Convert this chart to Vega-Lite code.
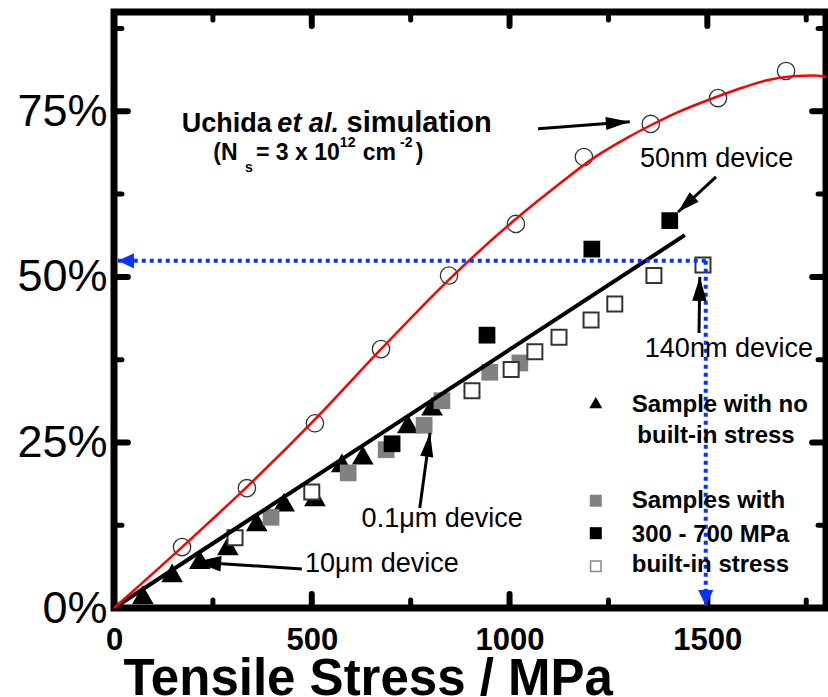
{
  "$schema": "https://vega.github.io/schema/vega-lite/v6.json",
  "width": 712,
  "height": 596,
  "autosize": {"type": "none"},
  "padding": {"left": 114, "top": 12, "right": 2, "bottom": 89},
  "background": "white",
  "config": {
    "view": {"stroke": "black", "strokeWidth": 7}
  },
  "datasets": {
    "sim": [
      {"x": 0, "y": 0}, {"x": 172, "y": 0.092}, {"x": 336, "y": 0.183}, {"x": 508, "y": 0.285}, {"x": 672, "y": 0.389},
      {"x": 847, "y": 0.496}, {"x": 1009, "y": 0.584}, {"x": 1127, "y": 0.641}, {"x": 1211, "y": 0.679}, {"x": 1297, "y": 0.71},
      {"x": 1357, "y": 0.729}, {"x": 1423, "y": 0.748}, {"x": 1524, "y": 0.772}, {"x": 1590, "y": 0.786}, {"x": 1651, "y": 0.797},
      {"x": 1716, "y": 0.803}, {"x": 1767, "y": 0.804}, {"x": 1800, "y": 0.802}
    ],
    "simpts": [
      {"x": 172, "y": 0.092}, {"x": 336, "y": 0.181}, {"x": 508, "y": 0.279}, {"x": 675, "y": 0.391}, {"x": 847, "y": 0.502},
      {"x": 1016, "y": 0.58}, {"x": 1188, "y": 0.681}, {"x": 1357, "y": 0.731}, {"x": 1527, "y": 0.77}, {"x": 1699, "y": 0.811}
    ],
    "fit": [{"x": 0, "y": 0}, {"x": 1443, "y": 0.563}],
    "meas": [
      {"series": "none", "x": 73, "y": 0.02}, {"series": "none", "x": 147, "y": 0.053}, {"series": "none", "x": 217, "y": 0.073},
      {"series": "none", "x": 288, "y": 0.094}, {"series": "none", "x": 361, "y": 0.13}, {"series": "none", "x": 430, "y": 0.16},
      {"series": "none", "x": 508, "y": 0.168}, {"series": "none", "x": 576, "y": 0.219}, {"series": "none", "x": 629, "y": 0.231},
      {"series": "none", "x": 743, "y": 0.278}, {"series": "none", "x": 804, "y": 0.305},
      {"series": "gray", "x": 397, "y": 0.137}, {"series": "gray", "x": 592, "y": 0.204}, {"series": "gray", "x": 688, "y": 0.239},
      {"series": "gray", "x": 784, "y": 0.276}, {"series": "gray", "x": 829, "y": 0.313}, {"series": "gray", "x": 950, "y": 0.356},
      {"series": "gray", "x": 1026, "y": 0.37},
      {"series": "black", "x": 703, "y": 0.248}, {"series": "black", "x": 943, "y": 0.412}, {"series": "black", "x": 1208, "y": 0.542},
      {"series": "black", "x": 1405, "y": 0.585},
      {"series": "open", "x": 306, "y": 0.106}, {"series": "open", "x": 500, "y": 0.175}, {"series": "open", "x": 905, "y": 0.328},
      {"series": "open", "x": 1004, "y": 0.36}, {"series": "open", "x": 1064, "y": 0.387}, {"series": "open", "x": 1125, "y": 0.409},
      {"series": "open", "x": 1206, "y": 0.435}, {"series": "open", "x": 1266, "y": 0.459}, {"series": "open", "x": 1365, "y": 0.502},
      {"series": "open", "x": 1489, "y": 0.518}
    ],
    "legend": [
      {"series": "none", "x": 1218, "y": 0.31}, {"series": "gray", "x": 1218, "y": 0.162},
      {"series": "black", "x": 1218, "y": 0.113}, {"series": "open", "x": 1218, "y": 0.063}
    ],
    "xt": [
      {"v": 250, "major": false}, {"v": 500, "major": true}, {"v": 750, "major": false}, {"v": 1000, "major": true},
      {"v": 1250, "major": false}, {"v": 1500, "major": true}, {"v": 1750, "major": false}
    ],
    "yt": [
      {"v": 0.125, "major": false}, {"v": 0.25, "major": true}, {"v": 0.375, "major": false}, {"v": 0.5, "major": true},
      {"v": 0.625, "major": false}, {"v": 0.75, "major": true}, {"v": 0.875, "major": false}
    ],
    "arrows": [
      {"name": "uchida", "x": 1072, "y": 0.7236, "x2": 1304, "y2": 0.7341},
      {"name": "50nm", "x": 1522, "y": 0.651, "x2": 1426, "y2": 0.598},
      {"name": "140nm", "x": 1479, "y": 0.4154, "x2": 1481, "y2": 0.5},
      {"name": "0.1um", "x": 773, "y": 0.151, "x2": 799, "y2": 0.2644},
      {"name": "10um", "x": 475, "y": 0.0589, "x2": 205, "y2": 0.0695},
      {"name": "blueH", "x": 1496, "y": 0.5242, "x2": 10, "y2": 0.5242},
      {"name": "blueV", "x": 1496, "y": 0.5242, "x2": 1496, "y2": 0.003}
    ],
    "labels": [
      {"kind": "head", "text": "Uchida", "x": 171, "y": 0.7195},
      {"kind": "headit", "text": "et al.", "x": 413, "y": 0.7195},
      {"kind": "head2", "text": "simulation", "x": 588, "y": 0.7195},
      {"kind": "ns", "text": "(N", "x": 251, "y": 0.6767},
      {"kind": "small", "text": "s", "x": 331, "y": 0.6586},
      {"kind": "ns", "text": "= 3 x 10", "x": 359, "y": 0.6767},
      {"kind": "small", "text": "12", "x": 571, "y": 0.6968},
      {"kind": "ns", "text": "cm", "x": 629, "y": 0.6767},
      {"kind": "small", "text": "-2", "x": 723, "y": 0.6968},
      {"kind": "ns", "text": ")", "x": 763, "y": 0.6767},
      {"kind": "device", "text": "50nm device", "x": 1330, "y": 0.6666},
      {"kind": "device", "text": "140nm device", "x": 1342, "y": 0.3796},
      {"kind": "device", "text": "0.1μm device", "x": 626, "y": 0.1228},
      {"kind": "device", "text": "10μm device", "x": 483, "y": 0.0548},
      {"kind": "legend", "text": "Sample with no", "x": 1309, "y": 0.2965},
      {"kind": "legend", "text": "built-in stress", "x": 1323, "y": 0.2488},
      {"kind": "legend", "text": "Samples with", "x": 1309, "y": 0.1506},
      {"kind": "legend", "text": "300 - 700 MPa", "x": 1309, "y": 0.1002},
      {"kind": "legend", "text": "built-in stress", "x": 1309, "y": 0.0548}
    ]
  },
  "layer": [
    {
      "data": {"name": "simpts"},
      "mark": {"type": "point", "shape": "circle", "filled": false, "stroke": "#333333", "strokeWidth": 1.3, "size": 300, "opacity": 1},
      "encoding": {
        "x": {"field": "x", "type": "quantitative", "scale": {"domain": [0, 1800], "nice": false, "zero": false},
          "axis": {"orient": "bottom", "domain": false, "grid": false, "ticks": false, "values": [0, 500, 1000, 1500], "format": "d",
            "labelFont": "Liberation Sans", "labelColor": "black", "labelFontSize": 31, "labelFontWeight": "bold",
            "labelPadding": 17, "labelFlush": false, "labelOverlap": false,
            "title": "Tensile Stress / MPa", "titleFont": "Liberation Sans", "titleColor": "black", "titleFontSize": 51, "titleFontWeight": "bold", "titleAlign": "left",
            "titleAnchor": "start", "titleX": 9, "titleY": 86, "titleBaseline": "alphabetic"}},
        "y": {"field": "y", "type": "quantitative", "scale": {"domain": [0, 0.9], "nice": false, "zero": false},
          "axis": {"orient": "left", "domain": false, "grid": false, "ticks": false, "values": [0, 0.25, 0.5, 0.75], "format": ".0%",
            "labelFont": "Liberation Sans", "labelColor": "black", "labelFontSize": 45, "labelFontWeight": "normal",
            "labelPadding": 7, "labelFlush": false, "labelOverlap": false, "title": null}}
      }
    },
    {
      "data": {"name": "meas"},
      "transform": [{"filter": "datum.series === 'none'"}],
      "mark": {"type": "point", "shape": "triangle-up", "filled": true, "color": "black", "size": 470, "opacity": 1},
      "encoding": {"x": {"field": "x", "type": "quantitative"}, "y": {"field": "y", "type": "quantitative"}}
    },
    {
      "data": {"name": "meas"},
      "transform": [{"filter": "datum.series === 'gray'"}],
      "mark": {"type": "point", "shape": "square", "filled": true, "color": "#808080", "size": 280, "opacity": 1},
      "encoding": {"x": {"field": "x", "type": "quantitative"}, "y": {"field": "y", "type": "quantitative"}}
    },
    {
      "data": {"name": "meas"},
      "transform": [{"filter": "datum.series === 'black'"}],
      "mark": {"type": "point", "shape": "square", "filled": true, "color": "black", "size": 280, "opacity": 1},
      "encoding": {"x": {"field": "x", "type": "quantitative"}, "y": {"field": "y", "type": "quantitative"}}
    },
    {
      "data": {"name": "meas"},
      "transform": [{"filter": "datum.series === 'open'"}],
      "mark": {"type": "point", "shape": "square", "filled": true, "fill": "white", "stroke": "#333333", "strokeWidth": 2, "size": 225, "opacity": 1},
      "encoding": {"x": {"field": "x", "type": "quantitative"}, "y": {"field": "y", "type": "quantitative"}}
    },
    {
      "data": {"name": "fit"},
      "mark": {"type": "line", "color": "black", "strokeWidth": 4},
      "encoding": {"x": {"field": "x", "type": "quantitative"}, "y": {"field": "y", "type": "quantitative"}}
    },
    {
      "data": {"name": "sim"},
      "mark": {"type": "line", "color": "#ff0000", "strokeWidth": 2.5, "interpolate": "monotone"},
      "encoding": {"x": {"field": "x", "type": "quantitative"}, "y": {"field": "y", "type": "quantitative"}}
    },
    {
      "data": {"name": "xt"},
      "transform": [{"filter": "datum.major"}],
      "mark": {"type": "rule", "color": "black", "strokeWidth": 6, "strokeCap": "round"},
      "encoding": {"x": {"field": "v", "type": "quantitative"}, "y": {"datum": 0}, "y2": {"datum": 0.021}}
    },
    {
      "data": {"name": "xt"},
      "transform": [{"filter": "!datum.major"}],
      "mark": {"type": "rule", "color": "black", "strokeWidth": 5, "strokeCap": "round"},
      "encoding": {"x": {"field": "v", "type": "quantitative"}, "y": {"datum": 0}, "y2": {"datum": 0.012}}
    },
    {
      "data": {"name": "xt"},
      "transform": [{"filter": "datum.major"}],
      "mark": {"type": "rule", "color": "black", "strokeWidth": 6, "strokeCap": "round"},
      "encoding": {"x": {"field": "v", "type": "quantitative"}, "y": {"datum": 0.9}, "y2": {"datum": 0.879}}
    },
    {
      "data": {"name": "xt"},
      "transform": [{"filter": "!datum.major"}],
      "mark": {"type": "rule", "color": "black", "strokeWidth": 5, "strokeCap": "round"},
      "encoding": {"x": {"field": "v", "type": "quantitative"}, "y": {"datum": 0.9}, "y2": {"datum": 0.888}}
    },
    {
      "data": {"name": "yt"},
      "transform": [{"filter": "datum.major"}],
      "mark": {"type": "rule", "color": "black", "strokeWidth": 6, "strokeCap": "round"},
      "encoding": {"y": {"field": "v", "type": "quantitative"}, "x": {"datum": 0}, "x2": {"datum": 35}}
    },
    {
      "data": {"name": "yt"},
      "transform": [{"filter": "!datum.major"}],
      "mark": {"type": "rule", "color": "black", "strokeWidth": 5, "strokeCap": "round"},
      "encoding": {"y": {"field": "v", "type": "quantitative"}, "x": {"datum": 0}, "x2": {"datum": 20}}
    },
    {
      "data": {"name": "yt"},
      "transform": [{"filter": "datum.major"}],
      "mark": {"type": "rule", "color": "black", "strokeWidth": 6, "strokeCap": "round"},
      "encoding": {"y": {"field": "v", "type": "quantitative"}, "x": {"datum": 1800}, "x2": {"datum": 1765}}
    },
    {
      "data": {"name": "yt"},
      "transform": [{"filter": "!datum.major"}],
      "mark": {"type": "rule", "color": "black", "strokeWidth": 5, "strokeCap": "round"},
      "encoding": {"y": {"field": "v", "type": "quantitative"}, "x": {"datum": 1800}, "x2": {"datum": 1780}}
    },
    {
      "data": {"name": "arrows"},
      "transform": [{"filter": "datum.name !== 'blueH' && datum.name !== 'blueV'"}],
      "mark": {"type": "rule", "color": "black", "strokeWidth": 3},
      "encoding": {"x": {"field": "x", "type": "quantitative"}, "y": {"field": "y", "type": "quantitative"},
        "x2": {"field": "x2"}, "y2": {"field": "y2"}}
    },
    {
      "data": {"name": "arrows"},
      "transform": [{"filter": "datum.name === 'blueH' || datum.name === 'blueV'"}],
      "mark": {"type": "rule", "color": "#0a32ff", "strokeWidth": 4, "strokeDash": [4, 4]},
      "encoding": {"x": {"field": "x", "type": "quantitative"}, "y": {"field": "y", "type": "quantitative"},
        "x2": {"field": "x2"}, "y2": {"field": "y2"}}
    },
    {
      "data": {"name": "arrows"},
      "transform": [{"filter": "datum.name === 'uchida'"}],
      "mark": {"type": "point", "shape": "M0,0L-0.55,2L0.55,2Z", "filled": true, "color": "black", "size": 576, "angle": 86, "opacity": 1},
      "encoding": {"x": {"field": "x2", "type": "quantitative"}, "y": {"field": "y2", "type": "quantitative"}}
    },
    {
      "data": {"name": "arrows"},
      "transform": [{"filter": "datum.name === '50nm'"}],
      "mark": {"type": "point", "shape": "M0,0L-0.6,2L0.6,2Z", "filled": true, "color": "black", "size": 484, "angle": 227, "opacity": 1},
      "encoding": {"x": {"field": "x2", "type": "quantitative"}, "y": {"field": "y2", "type": "quantitative"}}
    },
    {
      "data": {"name": "arrows"},
      "transform": [{"filter": "datum.name === '140nm'"}],
      "mark": {"type": "point", "shape": "M0,0L-0.6,2L0.6,2Z", "filled": true, "color": "black", "size": 576, "angle": 1, "opacity": 1},
      "encoding": {"x": {"field": "x2", "type": "quantitative"}, "y": {"field": "y2", "type": "quantitative"}}
    },
    {
      "data": {"name": "arrows"},
      "transform": [{"filter": "datum.name === '0.1um'"}],
      "mark": {"type": "point", "shape": "M0,0L-0.55,2L0.55,2Z", "filled": true, "color": "black", "size": 576, "angle": 8, "opacity": 1},
      "encoding": {"x": {"field": "x2", "type": "quantitative"}, "y": {"field": "y2", "type": "quantitative"}}
    },
    {
      "data": {"name": "arrows"},
      "transform": [{"filter": "datum.name === '10um'"}],
      "mark": {"type": "point", "shape": "M0,0L-0.6,2L0.6,2Z", "filled": true, "color": "black", "size": 676, "angle": 274, "opacity": 1},
      "encoding": {"x": {"field": "x2", "type": "quantitative"}, "y": {"field": "y2", "type": "quantitative"}}
    },
    {
      "data": {"name": "arrows"},
      "transform": [{"filter": "datum.name === 'blueH'"}],
      "mark": {"type": "point", "shape": "M0,0L-0.95,2L0.95,2Z", "filled": true, "color": "#0a32ff", "size": 256, "angle": 270, "opacity": 1},
      "encoding": {"x": {"field": "x2", "type": "quantitative"}, "y": {"field": "y2", "type": "quantitative"}}
    },
    {
      "data": {"name": "arrows"},
      "transform": [{"filter": "datum.name === 'blueV'"}],
      "mark": {"type": "point", "shape": "M0,0L-0.95,2L0.95,2Z", "filled": true, "color": "#0a32ff", "size": 256, "angle": 180, "opacity": 1},
      "encoding": {"x": {"field": "x2", "type": "quantitative"}, "y": {"field": "y2", "type": "quantitative"}}
    },
    {
      "data": {"name": "legend"},
      "transform": [{"filter": "datum.series === 'none'"}],
      "mark": {"type": "point", "shape": "triangle-up", "filled": true, "color": "black", "size": 169, "opacity": 1},
      "encoding": {"x": {"field": "x", "type": "quantitative"}, "y": {"field": "y", "type": "quantitative"}}
    },
    {
      "data": {"name": "legend"},
      "transform": [{"filter": "datum.series === 'gray'"}],
      "mark": {"type": "point", "shape": "square", "filled": true, "color": "#808080", "size": 144, "opacity": 1},
      "encoding": {"x": {"field": "x", "type": "quantitative"}, "y": {"field": "y", "type": "quantitative"}}
    },
    {
      "data": {"name": "legend"},
      "transform": [{"filter": "datum.series === 'black'"}],
      "mark": {"type": "point", "shape": "square", "filled": true, "color": "black", "size": 144, "opacity": 1},
      "encoding": {"x": {"field": "x", "type": "quantitative"}, "y": {"field": "y", "type": "quantitative"}}
    },
    {
      "data": {"name": "legend"},
      "transform": [{"filter": "datum.series === 'open'"}],
      "mark": {"type": "point", "shape": "square", "filled": true, "fill": "white", "stroke": "#888888", "strokeWidth": 1.5, "size": 110, "opacity": 1},
      "encoding": {"x": {"field": "x", "type": "quantitative"}, "y": {"field": "y", "type": "quantitative"}}
    },
    {
      "data": {"name": "labels"},
      "transform": [{"filter": "datum.kind === 'head'"}],
      "mark": {"type": "text", "align": "left", "baseline": "alphabetic", "font": "Liberation Sans", "fontSize": 27, "fontWeight": "bold", "color": "black"},
      "encoding": {"x": {"field": "x", "type": "quantitative"}, "y": {"field": "y", "type": "quantitative"}, "text": {"field": "text"}}
    },
    {
      "data": {"name": "labels"},
      "transform": [{"filter": "datum.kind === 'head2'"}],
      "mark": {"type": "text", "align": "left", "baseline": "alphabetic", "font": "Liberation Sans", "fontSize": 29, "fontWeight": "bold", "color": "black"},
      "encoding": {"x": {"field": "x", "type": "quantitative"}, "y": {"field": "y", "type": "quantitative"}, "text": {"field": "text"}}
    },
    {
      "data": {"name": "labels"},
      "transform": [{"filter": "datum.kind === 'headit'"}],
      "mark": {"type": "text", "align": "left", "baseline": "alphabetic", "font": "Liberation Sans", "fontSize": 27, "fontWeight": "bold", "fontStyle": "italic", "color": "black"},
      "encoding": {"x": {"field": "x", "type": "quantitative"}, "y": {"field": "y", "type": "quantitative"}, "text": {"field": "text"}}
    },
    {
      "data": {"name": "labels"},
      "transform": [{"filter": "datum.kind === 'ns'"}],
      "mark": {"type": "text", "align": "left", "baseline": "alphabetic", "font": "Liberation Sans", "fontSize": 23, "fontWeight": "bold", "color": "black"},
      "encoding": {"x": {"field": "x", "type": "quantitative"}, "y": {"field": "y", "type": "quantitative"}, "text": {"field": "text"}}
    },
    {
      "data": {"name": "labels"},
      "transform": [{"filter": "datum.kind === 'small'"}],
      "mark": {"type": "text", "align": "left", "baseline": "alphabetic", "font": "Liberation Sans", "fontSize": 14, "fontWeight": "bold", "color": "black"},
      "encoding": {"x": {"field": "x", "type": "quantitative"}, "y": {"field": "y", "type": "quantitative"}, "text": {"field": "text"}}
    },
    {
      "data": {"name": "labels"},
      "transform": [{"filter": "datum.kind === 'device'"}],
      "mark": {"type": "text", "align": "left", "baseline": "alphabetic", "font": "Liberation Sans", "fontSize": 27, "fontWeight": "normal", "color": "black"},
      "encoding": {"x": {"field": "x", "type": "quantitative"}, "y": {"field": "y", "type": "quantitative"}, "text": {"field": "text"}}
    },
    {
      "data": {"name": "labels"},
      "transform": [{"filter": "datum.kind === 'legend'"}],
      "mark": {"type": "text", "align": "left", "baseline": "alphabetic", "font": "Liberation Sans", "fontSize": 24, "fontWeight": "bold", "color": "black"},
      "encoding": {"x": {"field": "x", "type": "quantitative"}, "y": {"field": "y", "type": "quantitative"}, "text": {"field": "text"}}
    }
  ]
}
